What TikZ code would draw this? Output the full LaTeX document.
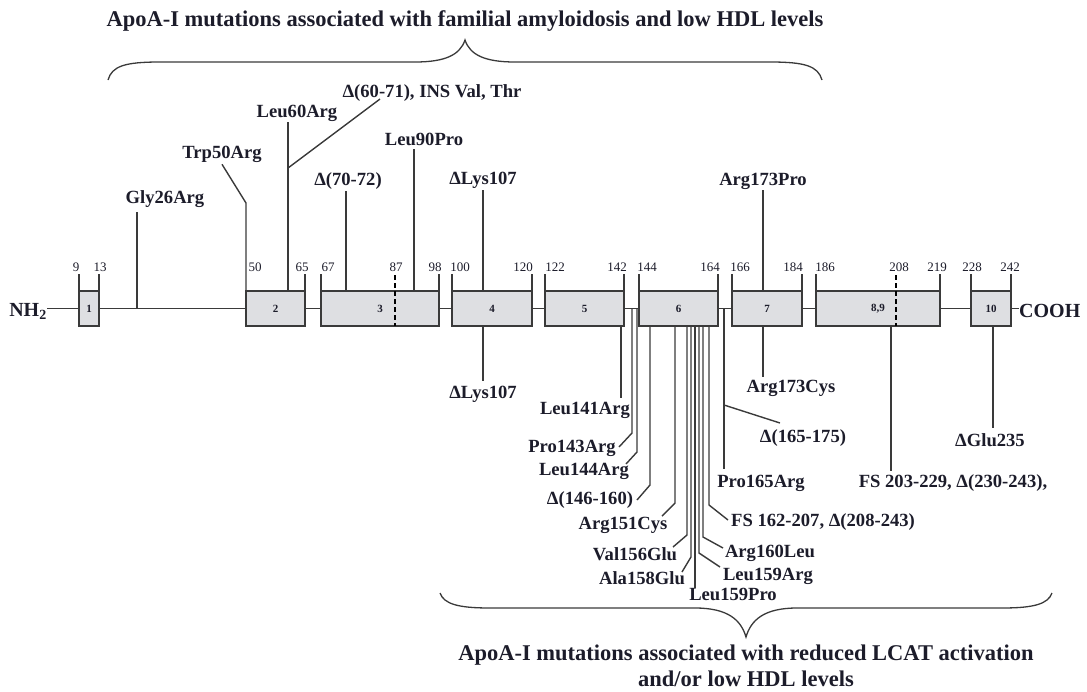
\documentclass[tikz,border=0pt]{standalone}
\usepackage{fontspec}
\setmainfont{Liberation Serif}
\usetikzlibrary{positioning,calc}
\definecolor{exonGray}{HTML}{DEDFE2}
\definecolor{lineGray}{HTML}{3A3A3A}
\definecolor{inkNavy}{HTML}{1C1C2A}
\tikzset{
  exon/.style={rectangle, draw=lineGray, fill=exonGray, line width=1.4pt, inner sep=0pt, outer sep=0pt, minimum height=35pt, font=\fontsize{11}{12}\selectfont\bfseries, text=inkNavy},
  mut/.style={font=\fontsize{18.6}{20}\selectfont\bfseries, text=inkNavy, inner sep=2pt, anchor=base},
  num/.style={font=\fontsize{13}{14}\selectfont, text=inkNavy, inner sep=0pt, anchor=base},
  ends/.style={font=\fontsize{20}{21}\selectfont\bfseries, text=inkNavy, inner sep=0pt},
  headtext/.style={font=\fontsize{22.5}{24}\selectfont\bfseries, text=inkNavy, inner sep=0pt, anchor=base},
  mline/.style={draw=lineGray, line width=1.4pt},
  cutline/.style={draw=black, line width=2.2pt, dash pattern=on 5pt off 3pt},
  curly/.style={draw=lineGray, line width=1.3pt}
}

\begin{document}
\begin{tikzpicture}[x=1pt, y=-1pt]
  \useasboundingbox (0,0) rectangle (1087,691);

  % titles and braces
  \node[headtext] (amyl) at (465,26) {ApoA-I mutations associated with familial amyloidosis and low HDL levels};
  \node[headtext] (lcatA) at (746,660) {ApoA-I mutations associated with reduced LCAT activation};
  \node[headtext] (lcatB) at (746,686) {and/or low HDL levels};
  \draw[curly] (108,80) .. controls (112,66) and (125,62) .. (160,62) -- (415,62)
    .. controls (445,62) and (460,55) .. (465,40) .. controls (470,55) and (485,62) .. (515,62)
    -- (770,62) .. controls (805,62) and (818,66) .. (822,80);
  \draw[curly] (440,593) .. controls (444,604) and (458,608) .. (490,608) -- (695,608)
    .. controls (728,608) and (741,620) .. (746,637) .. controls (751,620) and (764,608) .. (797,608)
    -- (1002,608) .. controls (1034,608) and (1048,604) .. (1052,593);

  % exons
  \node[exon, minimum width=20pt] (e1) at (89,308.5) {1};
  \node[exon, minimum width=59pt] (e2) at (275.5,308.5) {2};
  \node[exon, minimum width=118pt] (e3) at (380,308.5) {3};
  \node[exon, minimum width=80pt] (e4) at (492,308.5) {4};
  \node[exon, minimum width=79pt] (e5) at (584.5,308.5) {5};
  \node[exon, minimum width=79pt] (e6) at (678.5,308.5) {6};
  \node[exon, minimum width=70pt] (e7) at (767,308.5) {7};
  \node[exon, minimum width=124pt] (e89) at (878,308.5) {8,9};
  \node[exon, minimum width=40pt] (e10) at (991,308.5) {10};
  \node[ends, anchor=base east] (nh2) at (47,316) {NH\textsubscript{2}};
  \node[ends, anchor=base west] (cooh) at (1019,317) {COOH};

  \draw[mline] (nh2.east |- e1) -- (e1) (e1) -- (e2) (e2) -- (e3) (e3) -- (e4) (e4) -- (e5)
    (e5) -- (e6) (e6) -- (e7) (e7) -- (e89) (e89) -- (e10) (e10) -- (e10 -| cooh.west);

  % residue ticks
  \foreach \b in {e1,e3,e4,e5,e6,e7,e89,e10}
    \draw[mline] (\b.north west) -- ++(0,-17) (\b.north east) -- ++(0,-17);
  \draw[mline] (e2.north east) -- ++(0,-17);
  \coordinate (c87) at (395,275);
  \coordinate (c208) at (896,275);
  \draw[cutline] (c87) -- (c87 |- e3.south);
  \draw[cutline] (c208) -- (c208 |- e89.south);

  \node[num] (n9) at (76,271) {9};
  \node[num] (n13) at (100,271) {13};
  \node[num] (n50) at (255,271) {50};
  \node[num] (n65) at (302,271) {65};
  \node[num] (n67) at (328,271) {67};
  \node[num] (n87) at (396,271) {87};
  \node[num] (n98) at (435,271) {98};
  \node[num] (n100) at (460,271) {100};
  \node[num] (n120) at (523,271) {120};
  \node[num] (n122) at (555,271) {122};
  \node[num] (n142) at (617,271) {142};
  \node[num] (n144) at (647,271) {144};
  \node[num] (n164) at (710,271) {164};
  \node[num] (n166) at (740,271) {166};
  \node[num] (n184) at (793,271) {184};
  \node[num] (n186) at (825,271) {186};
  \node[num] (n208) at (899,271) {208};
  \node[num] (n219) at (937,271) {219};
  \node[num] (n228) at (972,271) {228};
  \node[num] (n242) at (1010,271) {242};

  % mutations above the chain
  \node[mut] (gly26) at (165,203) {Gly26Arg};
  \node[mut] (trp50) at (222,158) {Trp50Arg};
  \node[mut] (leu60) at (297,117) {Leu60Arg};
  \node[mut] (del60) at (432,97) {Δ(60-71), INS Val, Thr};
  \node[mut] (del70) at (348,185) {Δ(70-72)};
  \node[mut] (leu90) at (424,145) {Leu90Pro};
  \node[mut] (lys107a) at (483,184) {ΔLys107};
  \node[mut] (arg173p) at (763,185) {Arg173Pro};

  \coordinate (p26) at (137,212);
  \coordinate (p50) at (246,203);
  \coordinate (p60) at (288,122);
  \coordinate (q60) at (288,168);
  \coordinate (r60) at (380,99);
  \coordinate (p70) at (346,191);
  \coordinate (p90) at (414,149);
  \coordinate (p107a) at (483,190);
  \coordinate (p173a) at (763,190);

  \draw[mline] (e1 -| p26) -- (p26);
  \draw[mline] (e2.north west) -- (p50) -- (trp50.south);
  \draw[mline] (e2.north -| p60) -- (p60);
  \draw[mline] (q60) -- (r60);
  \draw[mline] (e3.north -| p70) -- (p70);
  \draw[mline] (e3.north -| p90) -- (p90);
  \draw[mline] (e4.north -| p107a) -- (p107a);
  \draw[mline] (e7.north -| p173a) -- (p173a);

  % mutations below the chain
  \node[mut] (lys107b) at (483,398) {ΔLys107};
  \node[mut] (leu141) at (585,414) {Leu141Arg};
  \node[mut] (pro143) at (572,452) {Pro143Arg};
  \node[mut] (leu144) at (584,475) {Leu144Arg};
  \node[mut] (del146) at (590,504) {Δ(146-160)};
  \node[mut] (arg151) at (623,529) {Arg151Cys};
  \node[mut] (val156) at (635,560) {Val156Glu};
  \node[mut] (ala158) at (642,584) {Ala158Glu};
  \node[mut] (leu159p) at (733,600) {Leu159Pro};
  \node[mut] (leu159a) at (768,580) {Leu159Arg};
  \node[mut] (arg160) at (770,557) {Arg160Leu};
  \node[mut] (fs162) at (823,526) {FS 162-207, Δ(208-243)};
  \node[mut] (pro165) at (761,487) {Pro165Arg};
  \node[mut] (del165) at (803,442) {Δ(165-175)};
  \node[mut] (arg173c) at (791,392) {Arg173Cys};
  \node[mut] (fs203) at (953,487) {FS 203-229, Δ(230-243),};
  \node[mut] (glu235) at (990,446) {ΔGlu235};

  \coordinate (p107b) at (483,381);
  \coordinate (p141) at (621,398);
  \coordinate (p143) at (632,433);  \coordinate (q143) at (619,447);
  \coordinate (p144) at (637,452);  \coordinate (q144) at (626,464);
  \coordinate (p146) at (650,485);  \coordinate (q146) at (637,500);
  \coordinate (p151) at (675,503);  \coordinate (q151) at (662,516);
  \coordinate (p156) at (687,535);  \coordinate (q156) at (673,547);
  \coordinate (p158) at (691,557);  \coordinate (q158) at (682,572);
  \coordinate (p159) at (695,588);
  \coordinate (r159) at (699,553);  \coordinate (s159) at (720,567);
  \coordinate (p160) at (703,537);  \coordinate (q160) at (723,548);
  \coordinate (p162) at (709,505);  \coordinate (q162) at (728,520);
  \coordinate (p165) at (724,469);
  \coordinate (q165) at (724,405);  \coordinate (r165) at (780,423);
  \coordinate (p173b) at (763,377);
  \coordinate (p203) at (891,471);
  \coordinate (p235) at (993,428);

  \draw[mline] (e4.south -| p107b) -- (p107b);
  \draw[mline] (e5.south -| p141) -- (p141);
  \draw[mline] (e5 -| p143) -- (p143) -- (q143);
  \draw[mline] (e6 -| p144) -- (p144) -- (q144);
  \draw[mline] (e6.south -| p146) -- (p146) -- (q146);
  \draw[mline] (e6.south -| p151) -- (p151) -- (q151);
  \draw[mline] (e6.south -| p156) -- (p156) -- (q156);
  \draw[mline] (e6.south -| p158) -- (p158) -- (q158);
  \draw[mline] (e6.south -| p159) -- (p159);
  \draw[mline] (e6.south -| r159) -- (r159) -- (s159);
  \draw[mline] (e6.south -| p160) -- (p160) -- (q160);
  \draw[mline] (e6.south -| p162) -- (p162) -- (q162);
  \draw[mline] (e6 -| p165) -- (p165);
  \draw[mline] (q165) -- (r165);
  \draw[mline] (e7.south -| p173b) -- (p173b);
  \draw[mline] (e89.south -| p203) -- (p203);
  \draw[mline] (e10.south -| p235) -- (p235);
\end{tikzpicture}
\end{document}
